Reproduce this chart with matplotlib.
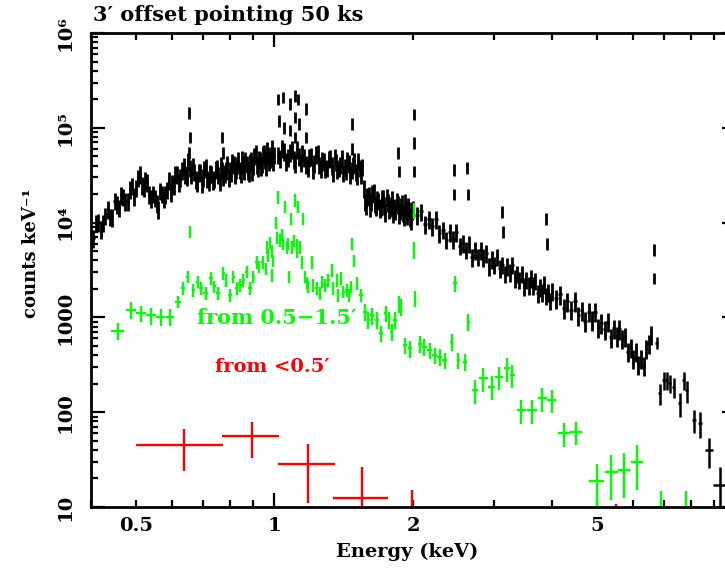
import numpy as np
import matplotlib
matplotlib.use('Agg')
import matplotlib.pyplot as plt
from matplotlib.ticker import FixedLocator, FixedFormatter, LogLocator, NullFormatter

plt.rcParams['font.family'] = ['DejaVu Serif', 'DejaVu Sans']
plt.rcParams['font.weight'] = 'bold'

# full field spectrum (black)
black1_e = [0.40, 0.41, 0.42, 0.43, 0.44, 0.45, 0.46, 0.47, 0.48, 0.49,
            0.50, 0.51, 0.52, 0.53, 0.54, 0.55, 0.56, 0.57, 0.58, 0.59,
            0.60, 0.61, 0.62, 0.63, 0.64, 0.65, 0.66, 0.67, 0.68, 0.69,
            0.70, 0.71, 0.72, 0.73, 0.74, 0.75, 0.76, 0.77, 0.78, 0.79,
            0.80, 0.81, 0.82, 0.83, 0.84, 0.85, 0.86, 0.87, 0.88, 0.89,
            0.90, 0.91, 0.92, 0.93, 0.94, 0.95, 0.96, 0.97, 0.98, 0.99, 1.00,
            0.405, 0.415, 0.425, 0.435, 0.445, 0.455, 0.465, 0.475, 0.485, 0.495,
            0.505, 0.515, 0.525, 0.535, 0.545, 0.555, 0.565, 0.575, 0.585, 0.595,
            0.605, 0.615, 0.625, 0.635, 0.645, 0.655, 0.665, 0.675, 0.685, 0.695,
            0.705, 0.715, 0.725, 0.735, 0.745, 0.755, 0.765, 0.775, 0.785, 0.795,
            0.805, 0.815, 0.825, 0.835, 0.845, 0.855, 0.865, 0.875, 0.885, 0.895,
            0.905, 0.915, 0.925, 0.935, 0.945, 0.955, 0.965, 0.975, 0.985, 0.995]
black1_c = [6500, 10000, 8600, 11900, 11600, 17100, 14400, 18900, 16800, 24600,
            23300, 32500, 23800, 26800, 18200, 18400, 13900, 20300, 20000, 28200,
            26000, 33000, 26700, 35600, 32600, 45000, 32400, 34700, 26900, 34700,
            30100, 38800, 27300, 33000, 29100, 38000, 27100, 36400, 33300, 42000,
            36000, 43700, 32700, 41000, 36300, 47600, 36000, 42000, 33600, 45900,
            40700, 53800, 38700, 46400, 41900, 54000, 39400, 52400, 47500, 61200, 52000,
            6900, 10100, 10000, 13800, 11400, 15600, 19600, 16900, 22700, 19100,
            30000, 24900, 28100, 20000, 20300, 16000, 21800, 18000, 22400, 21000,
            24800, 32500, 30400, 40100, 31000, 38000, 39700, 28900, 34000, 25700,
            37200, 29100, 33400, 27800, 36700, 32000, 40500, 31000, 35700, 30200,
            33600, 41300, 36100, 45400, 33500, 41100, 46000, 35600, 43700, 34400,
            51000, 40900, 47200, 39600, 52500, 46100, 58700, 44600, 51500, 43800]
black2_e = [1.02, 1.04, 1.06, 1.08, 1.10, 1.12, 1.14, 1.16, 1.18, 1.20,
            1.22, 1.24, 1.26, 1.28, 1.30, 1.32, 1.34, 1.36, 1.38, 1.40,
            1.42, 1.44, 1.46, 1.48, 1.50, 1.52, 1.54, 1.56, 1.58, 1.60,
            1.62, 1.64, 1.66, 1.68, 1.70, 1.72, 1.74, 1.76, 1.78, 1.80,
            1.82, 1.84, 1.86, 1.88, 1.90, 1.92, 1.94, 1.96, 1.98, 2.00,
            1.03, 1.05, 1.07, 1.09, 1.11, 1.13, 1.15, 1.17, 1.19, 1.21,
            1.23, 1.25, 1.27, 1.29, 1.31, 1.33, 1.35, 1.37, 1.39, 1.41,
            1.43, 1.45, 1.47, 1.49, 1.51, 1.53, 1.55, 1.57, 1.59, 1.61,
            1.63, 1.65, 1.67, 1.69, 1.71, 1.73, 1.75, 1.77, 1.79, 1.81,
            1.83, 1.85, 1.87, 1.89, 1.91, 1.93, 1.95, 1.97, 1.99]
black2_c = [52000, 61400, 44700, 55100, 46500, 59800, 43200, 49400, 38600, 50400,
            42700, 55000, 37800, 44300, 38200, 48300, 33600, 43900, 38000, 48000,
            39000, 46000, 32700, 41000, 34400, 45100, 32400, 23100, 15100, 19600,
            16700, 21300, 14800, 17000, 14700, 18400, 12900, 16500, 14400, 18000,
            14700, 17100, 12200, 15100, 12700, 16500, 11900, 13700, 10700, 14000,
            47800, 57200, 48900, 59600, 42600, 50400, 54600, 41400, 49100, 36900,
            52800, 40900, 45600, 37000, 47500, 40300, 49600, 36500, 40800, 33600,
            35900, 42400, 36100, 44300, 31800, 38000, 39100, 16900, 19100, 14400,
            20500, 15900, 17600, 14200, 18200, 15300, 18800, 13800, 15400, 12600,
            13400, 15700, 13400, 16300, 11700, 13800, 15100, 11400, 13600]
black3_e = [2.04, 2.08, 2.12, 2.16, 2.20, 2.24, 2.28, 2.32, 2.36, 2.40,
            2.44, 2.48, 2.52, 2.56, 2.60, 2.64, 2.68, 2.72, 2.76, 2.80,
            2.84, 2.88, 2.92, 2.96, 3.00, 3.04, 3.08, 3.12, 3.16, 3.20,
            3.24, 3.28, 3.32, 3.36, 3.40, 3.44, 3.48, 3.52, 3.56, 3.60,
            3.64, 3.68, 3.72, 3.76, 3.80, 3.84, 3.88, 3.92, 3.96, 4.00]
black3_c = [12000, 13100, 9700, 10900, 9200, 10900, 7800, 8400, 6600, 7900,
            6700, 7900, 5700, 6100, 5200, 6000, 4300, 5100, 4400, 5100,
            4300, 4800, 3500, 4100, 3600, 4400, 3300, 3600, 2900, 3500,
            3000, 3600, 2600, 2900, 2500, 2900, 2150, 2500, 2200, 2600,
            2200, 2450, 1800, 2100, 1850, 2250, 1700, 1850, 1500, 1900]
black4_e = [4.08, 4.16, 4.24, 4.32, 4.40, 4.48, 4.56, 4.64, 4.72, 4.80,
            4.88, 4.96, 5.04, 5.12, 5.20, 5.28, 5.36, 5.44, 5.52, 5.60,
            5.68, 5.76, 5.84, 5.92, 6.00, 6.08, 6.16, 6.24, 6.32, 6.40, 6.48, 6.56]
black4_c = [1600, 1760, 1260, 1480, 1210, 1490, 1050, 1190, 920, 1150,
            940, 1150, 790, 875, 750, 900, 620, 770, 640, 755,
            600, 630, 435, 480, 370, 440, 320, 370, 310, 470, 530, 660]
# relative errors for the four black pieces
black_rel = [0.21, 0.21, 0.21, 0.23]

# emission line bins (black)
black_line_e = [0.652, 0.654, 0.656, 0.770, 0.772, 1.020, 1.022, 1.045, 1.047, 1.081,
                1.083, 1.106, 1.108, 1.110, 1.127, 1.129, 1.169, 1.171, 1.470, 1.474,
                1.855, 1.862, 2.005, 2.008, 2.011, 2.450, 2.455, 2.620, 2.625, 3.120,
                3.125, 3.890, 3.895, 6.660, 6.670]
black_line_c = [55000, 145000, 80000, 80000, 55000, 200000, 120000, 210000, 100000, 180000,
                95000, 220000, 130000, 80000, 200000, 110000, 160000, 80000, 110000, 60000,
                55000, 35000, 140000, 70000, 35000, 36000, 20000, 38000, 20000, 13000,
                8000, 11000, 6000, 5200, 2600]

# high energy black bins
black_hi_e = [6.74, 6.85, 6.99, 7.09, 7.20, 7.34, 7.57, 7.72, 7.84, 8.12, 8.36, 8.75, 9.24]
black_hi_c = [540, 160, 219, 219, 203, 184, 125, 219, 171, 83, 77, 40, 17]
black_hi_de = [0.04, 0.05, 0.05, 0.05, 0.05, 0.06, 0.06, 0.06, 0.06, 0.07, 0.08, 0.18, 0.3]
black_hi_rel = [0.15, 0.25, 0.22, 0.22, 0.22, 0.24, 0.28, 0.22, 0.26, 0.28, 0.30, 0.35, 0.55]

# 0.5-1.5' annulus (green)
green_e = [0.457, 0.488, 0.513, 0.540, 0.567, 0.593, 0.617, 0.634, 0.648, 0.656,
           0.667, 0.681, 0.693, 0.709, 0.728, 0.741, 0.756, 0.775, 0.784, 0.801,
           0.814, 0.828, 0.842, 0.856, 0.870, 0.885, 0.900, 0.915, 0.926, 0.942,
           0.957, 0.965, 0.970, 0.980, 0.986, 0.990, 0.995, 1.006, 1.012, 1.020,
           1.030, 1.040, 1.045, 1.053, 1.063, 1.070, 1.075, 1.086, 1.093, 1.100,
           1.107, 1.117, 1.120, 1.127, 1.136, 1.146, 1.155, 1.165, 1.175, 1.185,
           1.204, 1.214, 1.235, 1.255, 1.266, 1.287, 1.309, 1.331, 1.342, 1.364,
           1.376, 1.394, 1.411, 1.434, 1.451, 1.466, 1.476, 1.490, 1.508, 1.540,
           1.571, 1.598, 1.631, 1.667, 1.703, 1.743, 1.772, 1.796, 1.826, 1.865,
           1.880, 1.919, 1.967, 2.006, 2.010, 2.018, 2.069, 2.115, 2.173, 2.229,
           2.285, 2.343, 2.423, 2.463, 2.505, 2.589, 2.632, 2.72, 2.84, 2.96,
           3.07, 3.19, 3.28, 3.43, 3.62, 3.81, 3.99, 4.24, 4.51, 5.00,
           5.38, 5.73, 6.12, 6.90, 7.80]
green_c = [725, 1200, 1110, 1050, 1015, 1015, 1470, 2030, 2690, 8000,
           1940, 2390, 2030, 1800, 2600, 2120, 1800, 2940, 2480, 1720,
           2690, 2030, 2200, 2480, 3040, 2030, 2690, 3830, 3420, 3830,
           3290, 5500, 4550, 6200, 2790, 5000, 4000, 10000, 7000, 18700,
           6550, 7500, 6000, 14700, 5520, 6000, 2690, 11000, 5520, 6500,
           17300, 4950, 5800, 14700, 5520, 3830, 11000, 2690, 2300, 2120,
           3830, 2200, 2030, 1800, 2390, 2200, 2480, 3160, 2030, 2480,
           1720, 2600, 1870, 1940, 1720, 2120, 6000, 4000, 2300, 1720,
           1150, 940, 1050, 940, 680, 1110, 940, 710, 940, 1400,
           1290, 510, 470, 13500, 5200, 1600, 530, 490, 450, 400,
           385, 355, 555, 2300, 355, 340, 900, 171, 228, 186,
           237, 290, 247, 105, 105, 140, 135, 60, 62, 19,
           23.5, 24.6, 30, 9, 9]
# relative error of the green bars by energy range
green_rel_edges = [0.6, 1.55, 2.7, 4.8, 6.5]
green_rel_vals = [0.20, 0.15, 0.20, 0.28, 0.50, 0.65]

# <0.5' core (red)
red_e = [0.638, 0.895, 1.184, 1.546, 1.99, 5.51]
red_c = [45, 56, 28.5, 12.5, 6, 5]
red_elo = [0.50, 0.768, 1.02, 1.342, 1.76, 5.2]
red_ehi = [0.775, 1.025, 1.353, 1.76, 2.25, 5.8]
red_clo = [24, 32.6, 11, 2, 1, 1]
red_chi = [66.5, 79, 46, 26.6, 15, 10.8]

xtick_major = [1, 10]
xtick_major_labels = ['1', '']
xtick_minor = [0.4, 0.5, 0.6, 0.7, 0.8, 0.9, 2, 3, 4, 5, 6, 7, 8, 9]
xtick_minor_labels = ['', '0.5', '', '', '', '', '2', '', '', '5', '', '', '', '']
ytick_vals = [10, 100, 1000, 1e4, 1e5, 1e6]
ytick_labels = ['10', '100', '1000', '10\u2074', '10\u2075', '10\u2076']


def sort_bins(e, c):
    e = np.asarray(e, dtype=float)
    c = np.asarray(c, dtype=float)
    order = np.argsort(e)
    return e[order], c[order]


def half_gap(e):
    e = np.asarray(e, dtype=float)
    d = np.diff(e)
    left = np.concatenate(([d[0]], d))
    right = np.concatenate((d, [d[-1]]))
    return np.minimum(left, right) / 2.0


def draw(ax, e, c, xe, lo, hi, color, lw):
    e = np.asarray(e, dtype=float)
    c = np.asarray(c, dtype=float)
    ax.errorbar(e, c, xerr=xe, yerr=[c - np.asarray(lo), np.asarray(hi) - c],
                fmt='none', ecolor=color, elinewidth=lw, capsize=0)


fig = plt.figure(figsize=(7.25, 5.71), dpi=100)
ax = fig.add_axes([91 / 725, 64 / 571, 644.5 / 725, 474 / 571])
ax.set_xscale('log')
ax.set_yscale('log')

# black
for (e, c), r in zip([(black1_e, black1_c), (black2_e, black2_c),
                      (black3_e, black3_c), (black4_e, black4_c)], black_rel):
    e, c = sort_bins(e, c)
    draw(ax, e, c, half_gap(e), c * (1 - r), c * (1 + r), 'black', 2.0)
c = np.asarray(black_line_c, dtype=float)
draw(ax, black_line_e, c, 0.0, c * 0.86, c * 1.14, 'black', 2.0)
c = np.asarray(black_hi_c, dtype=float)
r = np.asarray(black_hi_rel)
draw(ax, black_hi_e, c, black_hi_de, c * (1 - r), c * (1 + r), 'black', 1.8)

# green
c = np.asarray(green_c, dtype=float)
r = np.asarray(green_rel_vals)[np.digitize(green_e, green_rel_edges)]
draw(ax, green_e, c, half_gap(green_e), c * (1 - r), c * (1 + r), '#00ff00', 1.7)

# red
c = np.asarray(red_c, dtype=float)
draw(ax, red_e, c, [np.asarray(red_e) - np.asarray(red_elo),
                    np.asarray(red_ehi) - np.asarray(red_e)],
     red_clo, red_chi, '#ff0000', 1.7)

ax.set_xlim(0.4, 10)
ax.set_ylim(10, 1e6)

ax.xaxis.set_major_locator(FixedLocator(xtick_major))
ax.xaxis.set_major_formatter(FixedFormatter(xtick_major_labels))
ax.xaxis.set_minor_locator(FixedLocator(xtick_minor))
ax.xaxis.set_minor_formatter(FixedFormatter(xtick_minor_labels))
ax.yaxis.set_major_locator(FixedLocator(ytick_vals))
ax.yaxis.set_major_formatter(FixedFormatter(ytick_labels))
ax.yaxis.set_minor_locator(LogLocator(base=10, subs=np.arange(2, 10), numticks=20))
ax.yaxis.set_minor_formatter(NullFormatter())

ax.tick_params(which='both', direction='in', top=True, right=True, width=1.6,
               labelsize=14)
ax.tick_params(which='major', length=10)
ax.tick_params(which='minor', length=5)
ax.tick_params(axis='x', which='both', pad=7)
ax.tick_params(axis='y', which='both', pad=12)
for lab in ax.get_yticklabels():
    lab.set_rotation(90)
    lab.set_va('center')
for sp in ax.spines.values():
    sp.set_linewidth(2)

fig.text(93 / 725, 1 - 15 / 571, '3\u2032 offset pointing 50 ks', fontsize=15,
         fontweight='bold', ha='left', va='center')
fig.text(407 / 725, 1 - 552 / 571, 'Energy (keV)', fontsize=14,
         fontweight='bold', ha='center', va='center')
fig.text(31 / 725, 1 - 253 / 571, 'counts keV\u207b\u00b9', fontsize=13,
         fontweight='bold', ha='center', va='center', rotation=90)

ax.text(0.678, 990, 'from 0.5\u22121.5\u2032', color='#00ff00', fontsize=15,
        fontweight='bold', ha='left', va='center')
ax.text(0.742, 300, 'from <0.5\u2032', color='#ff0000', fontsize=14,
        fontweight='bold', ha='left', va='center')

fig.savefig('out.png', dpi=100)
